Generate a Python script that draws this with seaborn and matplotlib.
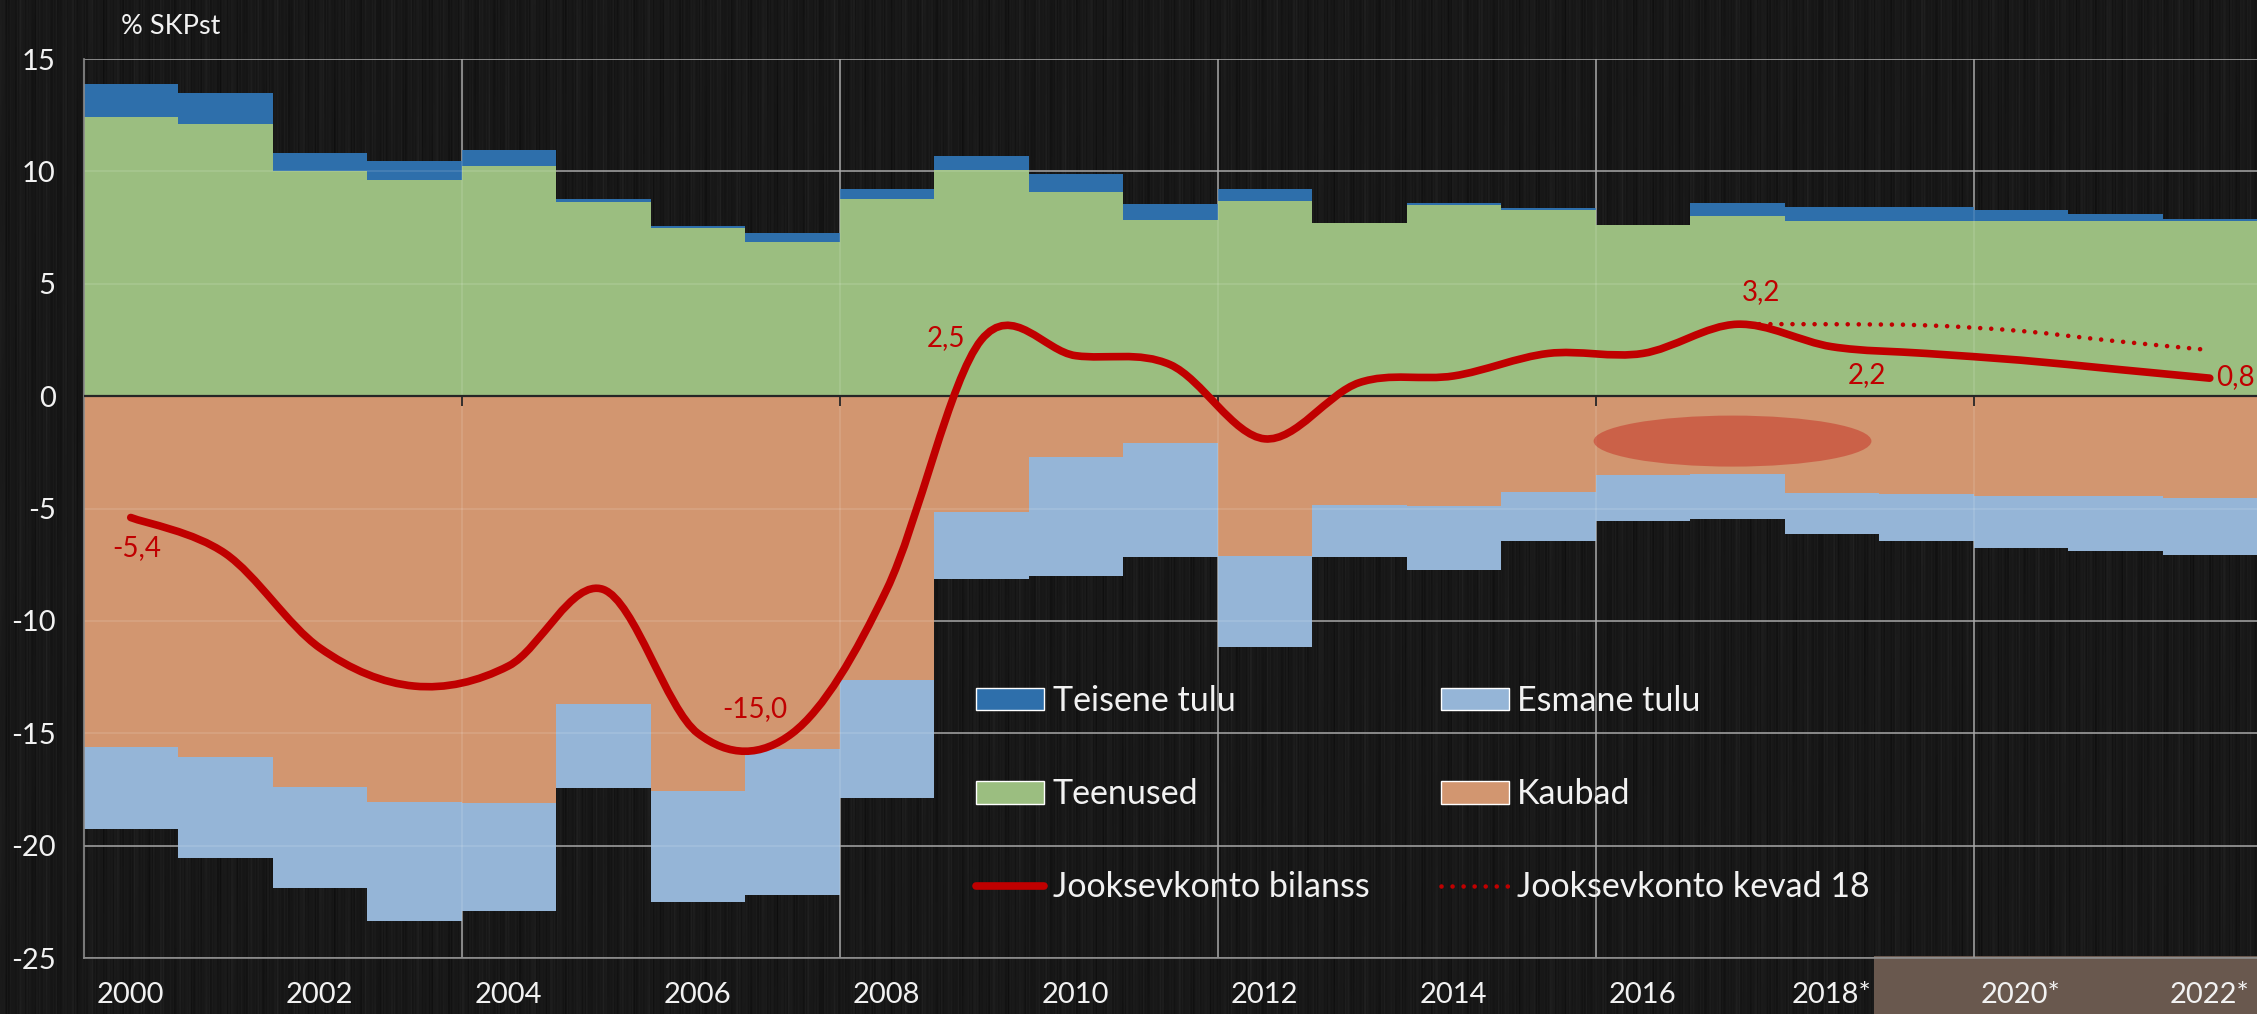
import numpy as np
import pandas as pd
import matplotlib
matplotlib.use("Agg")
import matplotlib.pyplot as plt
import seaborn as sns
from matplotlib.path import Path
from matplotlib.patches import PathPatch, Ellipse, Rectangle, Patch
from matplotlib.lines import Line2D
from matplotlib.transforms import blended_transform_factory

sns.set_style("dark")
plt.rcParams["font.family"] = ["Lato", "DejaVu Sans"]
plt.rcParams["axes.unicode_minus"] = False

# ---------------- andmed (% SKPst) ----------------
years = [str(y) for y in range(2000, 2023)]
year_labels = ["2000", "2002", "2004", "2006", "2008", "2010", "2012",
               "2014", "2016", "2018*", "2020*", "2022*"]

teenused = [12.4, 12.1, 10.0, 9.6, 10.25, 8.65, 7.5, 6.85, 8.75, 10.05, 9.1, 7.85,
            8.7, 7.7, 8.5, 8.3, 7.6, 8.0, 7.8, 7.8, 7.8, 7.8, 7.8]
teisene = [1.5, 1.4, 0.8, 0.85, 0.7, 0.1, 0.07, 0.4, 0.45, 0.65, 0.8, 0.7,
           0.5, 0.02, 0.08, 0.05, 0.0, 0.6, 0.6, 0.6, 0.5, 0.3, 0.1]
kaubad = [-15.6, -16.05, -17.4, -18.05, -18.1, -13.7, -17.55, -15.7, -12.65, -5.15,
          -2.7, -2.1, -7.1, -4.85, -4.9, -4.25, -3.5, -3.45, -4.3, -4.35, -4.45,
          -4.45, -4.55]
esmane = [-3.65, -4.5, -4.5, -5.3, -4.8, -3.75, -4.95, -6.5, -5.25, -3.0, -5.3,
          -5.05, -4.05, -2.3, -2.85, -2.2, -2.05, -2.0, -1.85, -2.1, -2.3, -2.45, -2.5]
bilanss = [-5.4, -7.0, -11.2, -12.9, -12.0, -8.6, -15.0, -15.0, -8.6, 2.5, 1.8,
           1.4, -1.9, 0.6, 0.9, 1.9, 1.9, 3.2, 2.2, 1.9, 1.6, 1.2, 0.8]
kevad_years = ["2017", "2018", "2019", "2020", "2021", "2022"]
kevad18 = [3.2, 3.2, 3.15, 2.9, 2.45, 2.05]

# väärtussildid: (aasta, tekst, nihe x, nihe y)
labels = [("2000", "-5,4", 0.06, -1.36), ("2006", "-15,0", 0.6, 1.1),
          ("2009", "2,5", -0.37, 0.08), ("2017", "3,2", 0.25, 1.43),
          ("2018", "2,2", 0.37, -1.27), ("2022", "0,8", 0.27, 0.05)]

df = pd.DataFrame({"aasta": years, "teenused": teenused, "teisene": teisene,
                   "kaubad": kaubad, "esmane": esmane})

BG = "#1a1a1a"
GREEN = "#9BBE80"
DBLUE = "#2E6FAB"
LBLUE = "#95B5D7"
ORANGE = "#D29670"
RED = "#C00000"
TXT = "#F2F2F2"
GRID = "#8c8c8c"

W, H = 2257, 1014
fig = plt.figure(figsize=(W / 100, H / 100), dpi=100, facecolor=BG)

# tumeda "harjatud" tausta triibud (ainult kujundus)
xx = np.arange(W)[None, :]
yy = np.arange(H)[:, None]
streak = (np.sin(0.71 * xx) + np.sin(1.93 * xx + 0.5) + 0.8 * np.sin(0.271 * xx + 2.0)
          + 0.6 * np.sin(3.7 * xx + 1.3)) / 3.4
mod = 0.7 + 0.3 * np.sin(yy / 41.0 + 0.37 * xx)
tex = np.clip(24 + 11 * streak * mod, 6, 50) / 255.0
fig.figimage(np.dstack([tex, tex, tex]), xo=0, yo=0, origin="upper", zorder=-3)

ax = fig.add_axes([0.037, 0.0552, 0.963, 0.8866])
ax.patch.set_alpha(0)

bar_kw = dict(width=1, saturation=1, errorbar=None, linewidth=0, ax=ax)
sns.barplot(data=df, x="aasta", y="teenused", color=GREEN, **bar_kw)
sns.barplot(data=df, x="aasta", y="teisene", bottom=df["teenused"], color=DBLUE, **bar_kw)
sns.barplot(data=df, x="aasta", y="kaubad", color=ORANGE, **bar_kw)
sns.barplot(data=df, x="aasta", y="esmane", bottom=df["kaubad"], color=LBLUE, **bar_kw)

pos = np.arange(len(years))


def smooth_path(xs, ys):
    # Exceli "silutud joon": Catmull-Rom kõverad läbi punktide
    pts = np.column_stack([xs, ys]).astype(float)
    verts, codes = [pts[0]], [Path.MOVETO]
    n = len(pts)
    for i in range(n - 1):
        p0 = pts[i - 1] if i > 0 else pts[i]
        p1, p2 = pts[i], pts[i + 1]
        p3 = pts[i + 2] if i + 2 < n else pts[i + 1]
        verts += [p1 + (p2 - p0) / 6, p2 - (p3 - p1) / 6, p2]
        codes += [Path.CURVE4] * 3
    return Path(verts, codes)


ax.add_patch(Ellipse((16.95, -2.0), 2.94, 2.27, facecolor=RED, alpha=0.35,
                     edgecolor="none", zorder=2))

kpos = [years.index(y) for y in kevad_years]
ax.add_patch(PathPatch(smooth_path(kpos, kevad18), fill=False, edgecolor=RED, lw=3.3,
                       linestyle=(0, (0.01, 2.4)), capstyle="round", zorder=4))
ax.add_patch(PathPatch(smooth_path(pos, bilanss), fill=False, edgecolor=RED, lw=5.5,
                       capstyle="round", joinstyle="round", zorder=5))

for yr, txt, dx, dy in labels:
    i = years.index(yr)
    ax.text(i + dx, bilanss[i] + dy, txt, color=RED, fontsize=20, ha="center",
            va="center", zorder=6)

# teljed ja ruudustik
ax.set_xlim(-0.5, len(years) - 0.5)
ax.set_ylim(-25, 15)
yt = np.arange(-25, 16, 5)
ax.set_yticks(yt)
ax.set_xticks(pos[::2])
ax.set_xticklabels(year_labels)
minor = np.arange(3.5, len(years) - 1, 4)
ax.set_xticks(minor, minor=True)
ax.set_xlabel("")
ax.set_ylabel("")
ax.set_axisbelow(True)
ax.yaxis.grid(True, color=GRID, lw=1.2)
ax.xaxis.grid(True, which="minor", color=GRID, lw=1.2)
ax.xaxis.grid(False, which="major")
for y in yt:
    ax.axhline(y, color="white", alpha=0.13, lw=1.2, zorder=1.5)
for x in minor:
    ax.axvline(x, color="white", alpha=0.13, lw=1.2, zorder=1.5)
ax.axhline(0, color="#262626", lw=1.6, zorder=3)
ax.vlines(minor, -0.45, 0, color="#262626", lw=1.3, zorder=3)

ax.tick_params(axis="both", which="both", length=0, colors=TXT, labelsize=21)
ax.tick_params(axis="y", pad=20)
ax.tick_params(axis="x", pad=17)
for s in ["top", "right"]:
    ax.spines[s].set_visible(False)
for s in ["left", "bottom"]:
    ax.spines[s].set_color(GRID)
    ax.spines[s].set_linewidth(1.2)

# prognoosiperioodi varjutus x-telje all
shade = Rectangle((18.45, 0), len(years) - 0.5 - 18.45, 0.057,
                  transform=blended_transform_factory(ax.transData, fig.transFigure),
                  facecolor="#69584E", edgecolor="none", zorder=-1)
fig.add_artist(shade)

fig.text(121 / W, 1 - 27 / H, "% SKPst", color=TXT, fontsize=19.5,
         ha="left", va="center")

handles = [Patch(facecolor=DBLUE), Patch(facecolor=GREEN),
           Line2D([], [], color=RED, lw=5.5, solid_capstyle="round"),
           Patch(facecolor=LBLUE), Patch(facecolor=ORANGE),
           Line2D([], [], color=RED, lw=3.3, linestyle=(0, (0.01, 2.4)),
                  dash_capstyle="round")]
names = ["Teisene tulu", "Teenused", "Jooksevkonto bilanss",
         "Esmane tulu", "Kaubad", "Jooksevkonto kevad 18"]
ax.legend(handles, names, ncol=2, frameon=False, fontsize=24.5, labelcolor=TXT,
          handlelength=2.0, handleheight=0.65, handletextpad=0.25,
          labelspacing=1.8, columnspacing=2.1, borderpad=0, borderaxespad=0,
          loc="upper left", bbox_to_anchor=(0.4106, 0.3037))

fig.savefig("out.png", dpi=100, facecolor=BG)
